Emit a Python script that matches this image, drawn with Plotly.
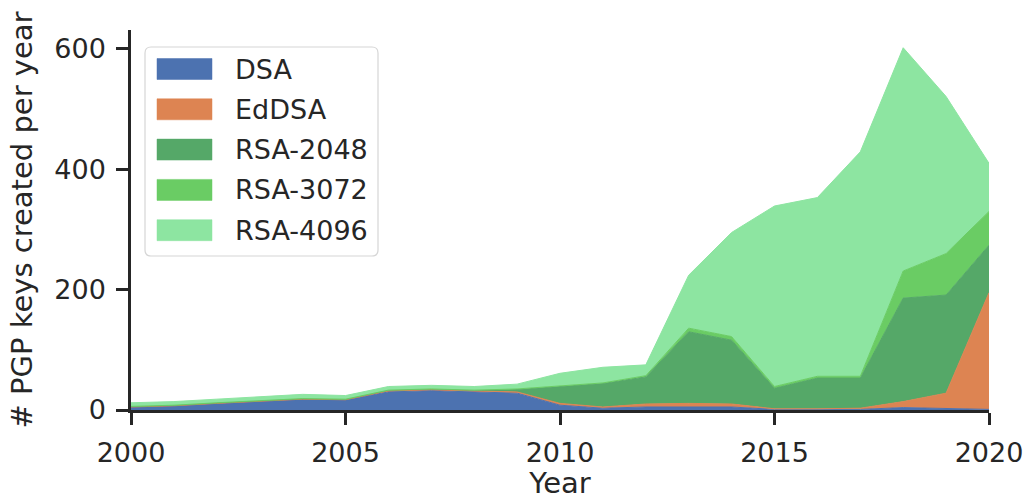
import plotly.graph_objects as go

# Keys created per year, by algorithm
years = list(range(2000, 2021))
series_names = ["DSA", "EdDSA", "RSA-2048", "RSA-3072", "RSA-4096"]
dsa = [5, 7, 11, 14, 18, 17, 30, 32, 30, 28, 8, 3, 5, 5, 5, 1, 1, 1, 4, 2, 1]
eddsa = [0, 0, 0, 0, 0, 0, 2, 2, 2, 2, 3, 2, 5, 6, 5, 1, 1, 2, 10, 26, 194]
rsa2048 = [1, 1, 1, 1, 1, 1, 1, 1, 1, 4, 28, 39, 45, 119, 106, 34, 51, 50, 172, 163, 79]
rsa3072 = [0, 0, 0, 0, 0, 0, 0, 0, 0, 1, 1, 1, 2, 6, 6, 3, 3, 3, 45, 69, 56]
rsa4096 = [6, 6, 6, 7, 7, 6, 6, 6, 6, 8, 21, 26, 18, 88, 173, 300, 297, 373, 371, 261, 80]
series_values = [dsa, eddsa, rsa2048, rsa3072, rsa4096]
colors = ["#4c72b0", "#dd8452", "#55a868", "#6acc64", "#8de5a1"]

x_ticks = [2000, 2005, 2010, 2015, 2020]
y_ticks = [0, 200, 400, 600]

TEXT = "#262626"
FONT = "DejaVu Sans"

# plot area in pixels (for placing the hand-drawn legend)
W, H = 1027, 500
L, R, T, B = 131, 38, 30, 90
PW, PH = W - L - R, H - T - B


def px(x):
    return (x - L) / PW


def py(y):
    return (H - B - y) / PH


fig = go.Figure()
for name, vals, col in zip(series_names, series_values, colors):
    fig.add_trace(go.Scatter(
        x=years, y=vals, name=name, stackgroup="keys",
        mode="lines", line=dict(color=col, width=1),
        fillcolor=col, showlegend=False,
    ))

# legend box with rounded corners
x0, x1, y0, y1, r = 145, 378, 47, 256, 6
rx, ry = r / PW, r / PH
path = (
    f"M {px(x0)+rx},{py(y0)} L {px(x1)-rx},{py(y0)} Q {px(x1)},{py(y0)} {px(x1)},{py(y0)-ry} "
    f"L {px(x1)},{py(y1)+ry} Q {px(x1)},{py(y1)} {px(x1)-rx},{py(y1)} "
    f"L {px(x0)+rx},{py(y1)} Q {px(x0)},{py(y1)} {px(x0)},{py(y1)+ry} "
    f"L {px(x0)},{py(y0)-ry} Q {px(x0)},{py(y0)} {px(x0)+rx},{py(y0)} Z"
)
fig.add_shape(type="path", path=path, xref="paper", yref="paper",
              line=dict(color="#d6d6d6", width=1.2), fillcolor="rgba(255,255,255,0.85)",
              layer="above")

row0, step = 69, 40.3
for i, (name, col) in enumerate(zip(series_names, colors)):
    cy = row0 + i * step
    fig.add_shape(type="rect", xref="paper", yref="paper",
                  x0=px(157), x1=px(212), y0=py(cy + 10.5), y1=py(cy - 10.5),
                  fillcolor=col, line=dict(color=col, width=0.5), layer="above")
    fig.add_annotation(x=px(233), y=py(cy), xref="paper", yref="paper",
                       text=name, showarrow=False, xanchor="left", yanchor="middle",
                       font=dict(family=FONT, size=27, color=TEXT))

axis_common = dict(
    showline=True, linecolor=TEXT, linewidth=2.5, mirror=False,
    ticks="outside", ticklen=12, tickwidth=2.5, tickcolor=TEXT,
    showgrid=False, zeroline=False, automargin=False,
    ticklabeloverflow="allow",
    tickfont=dict(family=FONT, size=27, color=TEXT),
)

fig.update_layout(
    width=W, height=H,
    margin=dict(l=L, r=R, t=T, b=B),
    paper_bgcolor="white", plot_bgcolor="white",
    xaxis=dict(range=[2000, 2020], tickvals=x_ticks, ticktext=[str(v) for v in x_ticks],
               title=dict(text="Year", font=dict(family=FONT, size=29, color=TEXT), standoff=12),
               ticklabelstandoff=5, **axis_common),
    yaxis=dict(range=[0, 631.5], tickvals=y_ticks, ticktext=[str(v) for v in y_ticks],
               title=dict(text="# PGP keys created per year", font=dict(family=FONT, size=29, color=TEXT), standoff=14),
               ticklabelstandoff=5, **axis_common),
)

fig.write_html("out.html")
